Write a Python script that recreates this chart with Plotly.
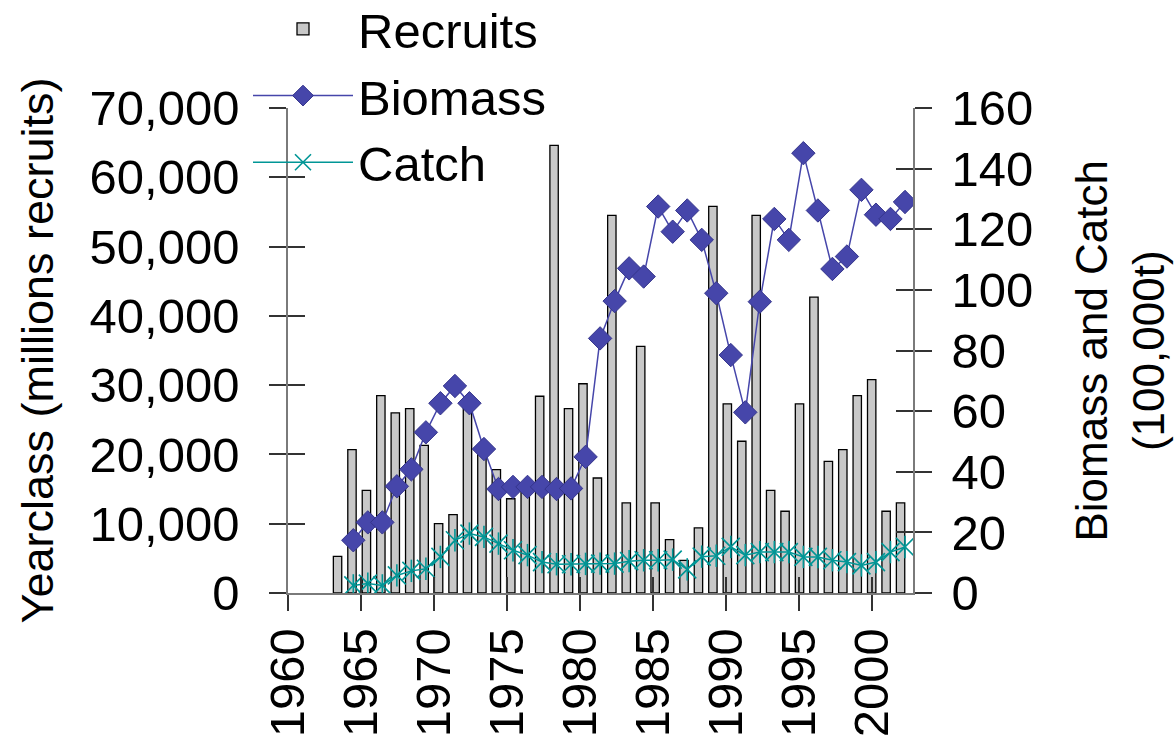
import plotly.graph_objects as go

# ---------------- data ----------------
rec_years = list(range(1963, 2003))
recruits = [5300, 20700, 14800, 28500, 26000, 26600, 21300, 10000, 11300, 27000,
            20000, 17800, 13600, 15200, 28400, 64600, 26600, 30200, 16600, 54500,
            13000, 35600, 13000, 7700, 4700, 9400, 55800, 27300, 21900, 54500,
            14800, 11800, 27300, 42700, 19000, 20700, 28500, 30800, 11800, 13000]

line_years = list(range(1964, 2003))
biomass = [17.4, 23.3, 23.3, 35.2, 40.8, 53.0, 62.6, 68.3, 62.6, 47.5,
           34.3, 35.0, 35.0, 35.0, 34.3, 34.5, 44.9, 84.0, 96.3, 107.1,
           104.4, 127.5, 119.2, 126.2, 116.5, 98.9, 78.5, 59.6, 96.1, 123.4,
           116.5, 145.1, 126.2, 106.9, 111.0, 133.0, 124.8, 123.4, 129.0]
catch = [2.5, 3.1, 2.5, 5.8, 7.3, 8.0, 11.9, 17.4, 19.6, 18.5,
         16.3, 14.1, 12.5, 10.2, 9.5, 9.5, 9.6, 9.7, 9.7, 10.5,
         10.8, 10.8, 11.0, 7.8, 12.0, 12.3, 15.2, 12.5, 13.5, 13.5,
         13.5, 11.9, 11.9, 10.8, 10.2, 9.1, 10.2, 13.5, 15.2]

x_ticks = [1960, 1965, 1970, 1975, 1980, 1985, 1990, 1995, 2000]
left_ticks = [0, 10000, 20000, 30000, 40000, 50000, 60000, 70000]
right_ticks = [0, 20, 40, 60, 80, 100, 120, 140, 160]

left_title = "Yearclass (millions recruits)"
right_title = "Biomass and Catch<br>(100,000t)"

# ---------------- styles ----------------
FONT = "Liberation Sans, Arial, sans-serif"
BAR_COLOR = "#C8C8C8"
BIO_COLOR = "#4646AA"
CATCH_COLOR = "#009696"
AXIS_COLOR = "#7a7a7a"
TICK_COLOR = "#333333"

fig = go.Figure()

fig.add_trace(go.Bar(
    name="Recruits", x=rec_years, y=recruits, xaxis="x2", yaxis="y",
    width=0.58, marker=dict(color=BAR_COLOR, line=dict(color="black", width=1.3)),
))
fig.add_trace(go.Scatter(
    name="Biomass", x=line_years, y=biomass, xaxis="x3", yaxis="y2",
    mode="lines+markers", line=dict(color=BIO_COLOR, width=1.5),
    marker=dict(symbol="diamond", size=18, color=BIO_COLOR,
                line=dict(color="#35358c", width=1)),
))
fig.add_trace(go.Scatter(
    name="Catch", x=line_years, y=catch, xaxis="x3", yaxis="y2",
    mode="lines+markers", line=dict(color=CATCH_COLOR, width=1.5),
    marker=dict(symbol="x-thin-open", size=18, color=CATCH_COLOR,
                line=dict(color=CATCH_COLOR, width=1.6)),
))
fig.add_trace(go.Scatter(
    name="Catch", x=line_years, y=catch, xaxis="x3", yaxis="y2",
    mode="markers", showlegend=False,
    marker=dict(symbol="line-ns-open", size=16, color=CATCH_COLOR,
                line=dict(color=CATCH_COLOR, width=1.6)),
))
# empty traces so that the labelled axes and the inner-tick axes are drawn
for xa, ya in [("x", "y"), ("x4", "y3"), ("x4", "y4")]:
    fig.add_trace(go.Scatter(x=[], y=[], xaxis=xa, yaxis=ya, showlegend=False,
                             hoverinfo="skip"))

X_RANGE = [1960, 2002.8]
tickfont = dict(family=FONT, size=49, color="black")
hidden = dict(visible=False, automargin=False)

fig.update_layout(
    template="none",
    width=1176, height=749,
    margin=dict(l=288, r=263, t=108, b=156, pad=0, autoexpand=False),
    paper_bgcolor="white", plot_bgcolor="white",
    font=dict(family=FONT, color="black"),
    barmode="overlay",
    showlegend=True,
    legend=dict(
        x=-0.064, y=1.0247, xanchor="left", yanchor="middle",
        bgcolor="rgba(0,0,0,0)", borderwidth=0,
        font=dict(family=FONT, size=49, color="black"),
        itemwidth=100, itemsizing="trace", tracegroupgap=0,
    ),
    xaxis=dict(
        range=X_RANGE, tickmode="array", tickvals=x_ticks, automargin=False,
        ticks="outside", ticklen=16, tickwidth=1.5, tickcolor=TICK_COLOR,
        tickangle=-90, tickfont=tickfont, ticklabelstandoff=-2,
        showline=True, linecolor=AXIS_COLOR, linewidth=1.5,
        showgrid=False, zeroline=False,
    ),
    xaxis2=dict(overlaying="x", anchor="y", range=[1959.568, 2002.862], **hidden),
    xaxis3=dict(overlaying="x", anchor="y", range=[1959.502, 2002.552], **hidden),
    xaxis4=dict(overlaying="x", anchor="y", range=X_RANGE, tickmode="array",
                tickvals=x_ticks, ticks="inside", ticklen=16, tickwidth=1.5,
                tickcolor=TICK_COLOR, showticklabels=False, showline=False,
                showgrid=False, zeroline=False, automargin=False),
    yaxis=dict(
        range=[0, 70000], tickmode="array", tickvals=left_ticks, automargin=False,
        tickformat=",", ticks="outside", ticklen=17, tickwidth=1.5,
        tickcolor=TICK_COLOR, tickfont=tickfont, ticklabelstandoff=20,
        showline=True, linecolor=AXIS_COLOR, linewidth=1.5,
        showgrid=False, zeroline=False,
    ),
    yaxis2=dict(
        overlaying="y", side="right", anchor="x", range=[0, 160], automargin=False,
        tickmode="array", tickvals=right_ticks,
        ticks="outside", ticklen=17, tickwidth=1.5, tickcolor=TICK_COLOR,
        tickfont=tickfont, ticklabelstandoff=10,
        showline=True, linecolor=AXIS_COLOR, linewidth=1.5,
        showgrid=False, zeroline=False,
    ),
    yaxis3=dict(overlaying="y", side="left", anchor="x", range=[0, 70000],
                tickmode="array", tickvals=left_ticks, ticks="inside",
                ticklen=17, tickwidth=1.5, tickcolor=TICK_COLOR,
                showticklabels=False, showline=False, showgrid=False,
                zeroline=False, automargin=False),
    yaxis4=dict(overlaying="y", side="right", anchor="x", range=[0, 160],
                tickmode="array", tickvals=right_ticks, ticks="inside",
                ticklen=17, tickwidth=1.5, tickcolor=TICK_COLOR,
                showticklabels=False, showline=False, showgrid=False,
                zeroline=False, automargin=False),
    annotations=[
        dict(text=left_title, xref="paper", yref="paper", x=-0.4016, y=0.5,
             xanchor="center", yanchor="middle", textangle=-90, showarrow=False,
             font=dict(family=FONT, size=45, color="black")),
        dict(text=right_title, xref="paper", yref="paper", x=1.3296, y=0.5,
             xanchor="center", yanchor="middle", textangle=-90, showarrow=False,
             font=dict(family=FONT, size=44, color="black")),
    ],
)

fig.write_html("out.html", config={"displayModeBar": False},
               post_script="document.body.style.margin='0';"
                           "document.body.style.overflow='hidden';")
